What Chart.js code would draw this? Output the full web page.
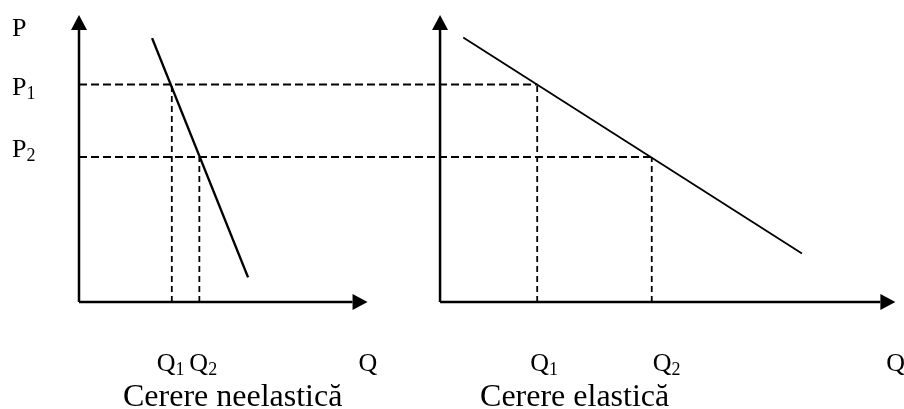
<!DOCTYPE html>
<html>
<head>
<meta charset="utf-8">
<script src="https://cdn.jsdelivr.net/npm/chart.js@4.4.1/dist/chart.umd.min.js"></script>
<style>
  html, body { margin: 0; padding: 0; background: #fff; }
  #wrap { width: 904px; height: 409px; }
</style>
</head>
<body>
<div id="wrap"><canvas id="grafico" width="904" height="409"></canvas></div>
<script>
// niveluri de pret, comune ambelor grafice
const preturi = [7.5, 5];            // P1, P2
const pMax = 9.9;                    // varful axei P

// cerere neelastica (graficul din stanga)
const neelasticaQ = [2.52, 5.83];
const neelasticaP = [9.1, 0.85];
const cantNeelastica = [3.2, 4.15];  // Q1, Q2
const qMaxNeelastica = 9.95;

// cerere elastica (graficul din dreapta)
const elasticaQ = [0.8, 12.48];
const elasticaP = [9.12, 1.67];
const cantElastica = [3.35, 7.3];    // Q1, Q2
const qMaxElastica = 15.7;

// unde incepe al doilea grafic pe scala comuna Q
const origenElastica = 12.45;

const FONT = '"Liberation Serif", "Times New Roman", serif';

function puncte(qs, ps, dx){
    return qs.map(function(q, i){ return { x: q + dx, y: ps[i] }; });
}

function linie(data, width, dash){
    return {
        data: data,
        showLine: true,
        borderColor: '#000',
        borderWidth: width,
        borderDash: dash || [],
        pointRadius: 0,
        fill: false
    };
}

const datasets = [
    linie(puncte(neelasticaQ, neelasticaP, 0), 2.4),
    linie(puncte(elasticaQ, elasticaP, origenElastica), 1.8),
    // orizontale punctate P1, P2 (trec peste ambele grafice)
    linie([{x: 0, y: preturi[0]}, {x: origenElastica + cantElastica[0], y: preturi[0]}], 1.8, [8, 4]),
    linie([{x: 0, y: preturi[1]}, {x: origenElastica + cantElastica[1], y: preturi[1]}], 1.8, [8, 4])
];
cantNeelastica.forEach(function(q, i){
    datasets.push(linie([{x: q, y: 0}, {x: q, y: preturi[i]}], 1.8, [6, 4]));
});
cantElastica.forEach(function(q, i){
    datasets.push(linie([{x: origenElastica + q, y: 0}, {x: origenElastica + q, y: preturi[i]}], 1.8, [6, 4]));
});

function sageata(ctx, x1, y1, x2, y2){
    const ang = Math.atan2(y2 - y1, x2 - x1);
    const len = 15, half = 8;
    ctx.beginPath();
    ctx.moveTo(x1, y1);
    ctx.lineTo(x2 - len * Math.cos(ang), y2 - len * Math.sin(ang));
    ctx.stroke();
    ctx.beginPath();
    ctx.moveTo(x2, y2);
    ctx.lineTo(x2 - len * Math.cos(ang) - half * Math.sin(ang), y2 - len * Math.sin(ang) + half * Math.cos(ang));
    ctx.lineTo(x2 - len * Math.cos(ang) + half * Math.sin(ang), y2 - len * Math.sin(ang) - half * Math.cos(ang));
    ctx.closePath();
    ctx.fill();
}

// etichete: pozitie ancorata in unitatile graficului + mic decalaj in pixeli
const etichete = [
    { t: 'P', s: '',  x: 0, y: pMax,       dx: -67, dy: 21 },
    { t: 'P', s: '1', x: 0, y: preturi[0], dx: -67, dy: 10 },
    { t: 'P', s: '2', x: 0, y: preturi[1], dx: -67, dy: 0 },
    { t: 'Q', s: '1', x: cantNeelastica[0], y: 0, dx: -15, dy: 69 },
    { t: 'Q', s: '2', x: cantNeelastica[1], y: 0, dx: -10, dy: 69 },
    { t: 'Q', s: '',  x: qMaxNeelastica,    y: 0, dx: -9,  dy: 69 },
    { t: 'Q', s: '1', x: origenElastica + cantElastica[0], y: 0, dx: -7, dy: 69 },
    { t: 'Q', s: '2', x: origenElastica + cantElastica[1], y: 0, dx: 1,  dy: 69 },
    { t: 'Q', s: '',  x: origenElastica + qMaxElastica,    y: 0, dx: -9, dy: 69 }
];
const titluri = [
    { t: 'Cerere neelastică', x: 0,              dx: 44 },
    { t: 'Cerere elastică',   x: origenElastica, dx: 40 }
];

const desen = {
    id: 'desen',
    beforeDatasetsDraw: function(chart){
        const ctx = chart.ctx, sx = chart.scales.x, sy = chart.scales.y;
        ctx.save();
        ctx.strokeStyle = '#000';
        ctx.fillStyle = '#000';
        ctx.lineWidth = 2.5;
        [[0, qMaxNeelastica], [origenElastica, qMaxElastica]].forEach(function(p){
            const ox = sx.getPixelForValue(p[0]), oy = sy.getPixelForValue(0);
            sageata(ctx, ox, oy, ox, sy.getPixelForValue(pMax));
            sageata(ctx, ox, oy, sx.getPixelForValue(p[0] + p[1]), oy);
        });
        ctx.restore();
    },
    afterDraw: function(chart){
        const ctx = chart.ctx, sx = chart.scales.x, sy = chart.scales.y;
        ctx.save();
        ctx.fillStyle = '#000';
        ctx.textAlign = 'left';
        ctx.textBaseline = 'alphabetic';
        etichete.forEach(function(e){
            const x = sx.getPixelForValue(e.x) + e.dx;
            const y = sy.getPixelForValue(e.y) + e.dy;
            ctx.font = '26px ' + FONT;
            ctx.fillText(e.t, x, y);
            if (e.s) {
                const w = ctx.measureText(e.t).width;
                ctx.font = '18px ' + FONT;
                ctx.fillText(e.s, x + w, y + 4);
            }
        });
        ctx.font = '32px ' + FONT;
        titluri.forEach(function(t){
            ctx.fillText(t.t, sx.getPixelForValue(t.x) + t.dx, sy.getPixelForValue(0) + 104);
        });
        ctx.restore();
    }
};

new Chart(document.getElementById('grafico'), {
    type: 'scatter',
    data: { datasets: datasets },
    options: {
        responsive: false,
        devicePixelRatio: 1,
        animation: false,
        layout: { padding: { left: 79, right: 13, top: 12, bottom: 107 } },
        scales: {
            x: { type: 'linear', min: 0, max: 28, display: false },
            y: { type: 'linear', min: 0, max: 10, display: false }
        },
        plugins: {
            legend: { display: false },
            tooltip: { enabled: false }
        }
    },
    plugins: [desen]
});
</script>
</body>
</html>
